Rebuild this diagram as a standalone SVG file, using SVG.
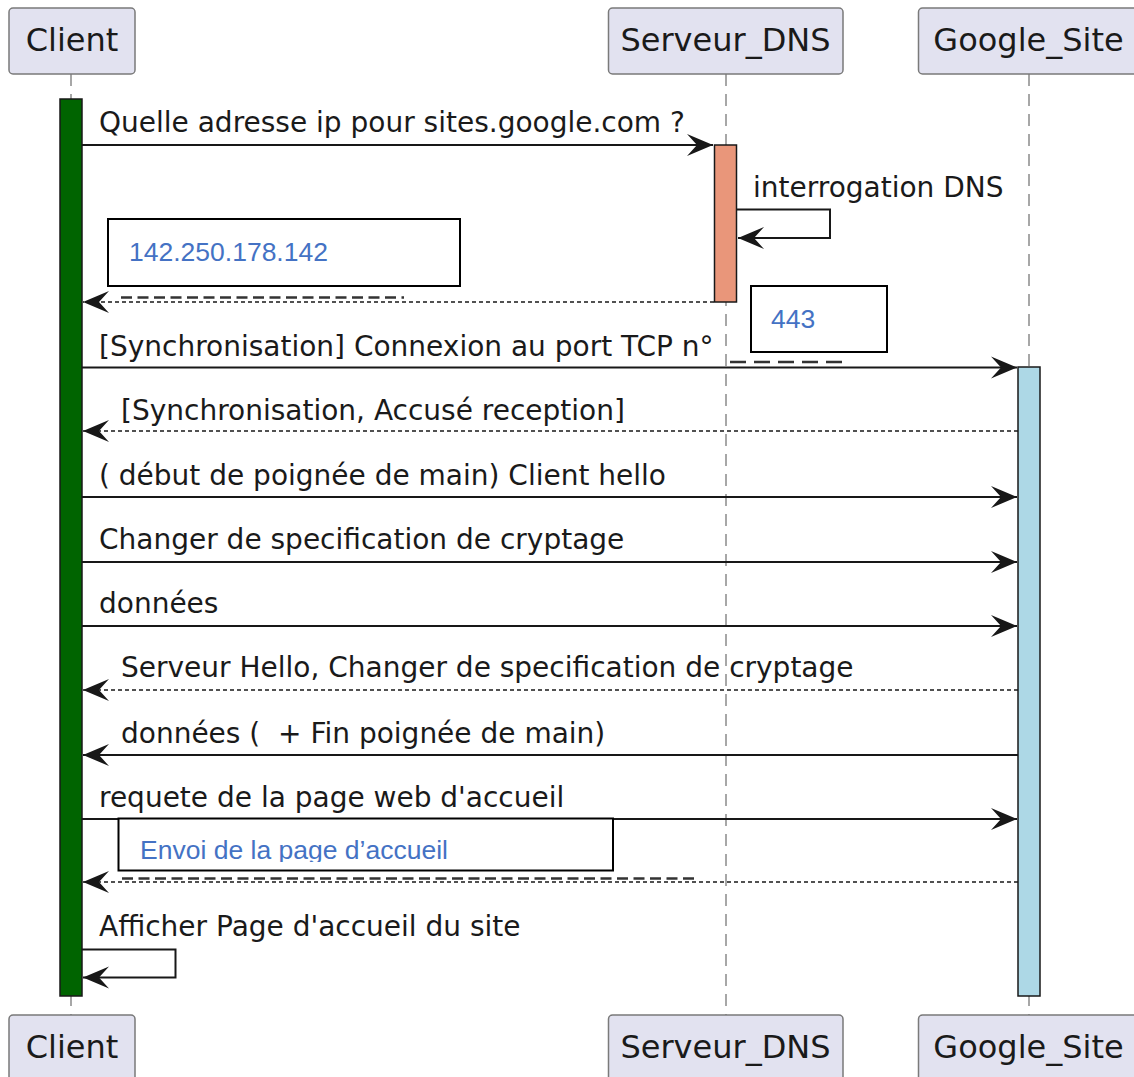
<svg xmlns="http://www.w3.org/2000/svg" width="1134" height="1077" viewBox="0 0 1134 1077">
<style>
.part{fill:#E2E2F0;stroke:#7a7a7a;stroke-width:1.5}
.ptxt{font-family:"DejaVu Sans",sans-serif;font-size:32px;fill:#1a1a1a;text-anchor:middle}
.life{stroke:#8a8a8a;stroke-width:1.5;stroke-dasharray:12 8;fill:none}
.msg{font-family:"DejaVu Sans",sans-serif;font-size:28px;fill:#1a1a1a;white-space:pre}
.sol{stroke:#181818;stroke-width:2;fill:none;marker-end:url(#ah)}
.dot{stroke:#181818;stroke-width:1.5;stroke-dasharray:4 3;fill:none;marker-end:url(#ah)}
.note{fill:#ffffff;stroke:#000000;stroke-width:2}
.ntxt{font-family:"Liberation Sans",Arial,sans-serif;font-size:26.5px;fill:#4472C4}
.uline{stroke:#333333;stroke-width:2.5;fill:none}
</style>
<defs>
<marker id="ah" viewBox="-28 -12 30 24" markerWidth="30" markerHeight="24" refX="0" refY="0" orient="auto" markerUnits="userSpaceOnUse">
<path d="M0,0 L-26,-11 L-16,0 L-26,11 Z" fill="#181818"/>
</marker>
<clipPath id="envclip"><rect x="118" y="818" width="496" height="44"/></clipPath>
</defs>

<g id="lifelines">
<line class="life" x1="71" y1="74" x2="71" y2="1015"/>
<line class="life" x1="726" y1="74" x2="726" y2="1015"/>
<line class="life" x1="1029" y1="74" x2="1029" y2="1015"/>
</g>

<g id="Client">
<rect class="part" x="9" y="8" width="126" height="66" rx="4"/>
<text class="ptxt" x="72" y="51">Client</text>
<rect class="part" x="9" y="1015" width="126" height="70" rx="4"/>
<text class="ptxt" x="72" y="1058">Client</text>
<rect x="60" y="99" width="22" height="897" fill="#006400" stroke="#181818" stroke-width="1.5"/>
</g>

<g id="Serveur_DNS">
<rect class="part" x="608.5" y="8" width="234.5" height="66" rx="4"/>
<text class="ptxt" x="725.5" y="51">Serveur_DNS</text>
<rect class="part" x="608.5" y="1015" width="234.5" height="70" rx="4"/>
<text class="ptxt" x="725.5" y="1058">Serveur_DNS</text>
<rect x="714.5" y="145" width="22" height="157" fill="#E9967A" stroke="#181818" stroke-width="1.5"/>
</g>

<g id="Google_Site">
<rect class="part" x="918.5" y="8" width="230" height="66" rx="4"/>
<text class="ptxt" x="1028.5" y="51">Google_Site</text>
<rect class="part" x="918.5" y="1015" width="230" height="70" rx="4"/>
<text class="ptxt" x="1028.5" y="1058">Google_Site</text>
<rect x="1018" y="367" width="22" height="629" fill="#ADD8E6" stroke="#181818" stroke-width="1.5"/>
</g>

<g id="connectors">
<line class="sol" x1="82" y1="145" x2="713" y2="145"/>
<path class="sol" d="M737,209.5 H830 V238 H738"/>
<line class="dot" x1="714" y1="302" x2="83" y2="302"/>
<line class="sol" x1="82" y1="367.5" x2="1017" y2="367.5"/>
<line class="dot" x1="1018" y1="431" x2="83" y2="431"/>
<line class="sol" x1="82" y1="497" x2="1017" y2="497"/>
<line class="sol" x1="82" y1="562" x2="1017" y2="562"/>
<line class="sol" x1="82" y1="626" x2="1017" y2="626"/>
<line class="dot" x1="1018" y1="690" x2="83" y2="690"/>
<line class="sol" x1="1018" y1="755" x2="83" y2="755"/>
<line class="sol" x1="82" y1="819" x2="1017" y2="819"/>
<line class="dot" x1="1018" y1="882" x2="83" y2="882"/>
<path class="sol" d="M82,949.5 H175.5 V977.5 H83"/>
</g>

<g id="labels">
<text class="msg" x="99" y="132">Quelle adresse ip pour sites.google.com ?</text>
<text class="msg" x="753" y="197">interrogation DNS</text>
<text class="msg" x="99" y="356">[Synchronisation] Connexion au port TCP n°</text>
<text class="msg" x="121" y="420">[Synchronisation, Accusé reception]</text>
<text class="msg" x="99" y="485">( début de poignée de main) Client hello</text>
<text class="msg" x="99" y="549">Changer de specification de cryptage</text>
<text class="msg" x="99" y="613">données</text>
<text class="msg" x="121" y="677">Serveur Hello, Changer de specification de cryptage</text>
<text class="msg" x="121" y="743">données (  + Fin poignée de main)</text>
<text class="msg" x="99" y="807">requete de la page web d'accueil</text>
<text class="msg" x="99" y="936">Afficher Page d'accueil du site</text>
</g>

<g id="note_ip">
<rect class="note" x="108" y="219" width="352" height="67"/>
<text class="ntxt" x="129" y="261">142.250.178.142</text>
<line class="uline" x1="121" y1="297.5" x2="404" y2="297.5" stroke-dasharray="11 5.5"/>
</g>

<g id="note_port">
<rect class="note" x="751" y="286" width="136" height="66"/>
<text class="ntxt" x="771" y="328">443</text>
<line class="uline" x1="730" y1="362" x2="842" y2="362" stroke-dasharray="16 8"/>
</g>

<g id="note_envoi">
<rect class="note" x="118.5" y="818.5" width="494.5" height="52"/>
<text class="ntxt" x="140" y="859" clip-path="url(#envclip)">Envoi de la page d’accueil</text>
<line class="uline" x1="122" y1="878.5" x2="696" y2="878.5" stroke-dasharray="11 5.5"/>
</g>
</svg>
